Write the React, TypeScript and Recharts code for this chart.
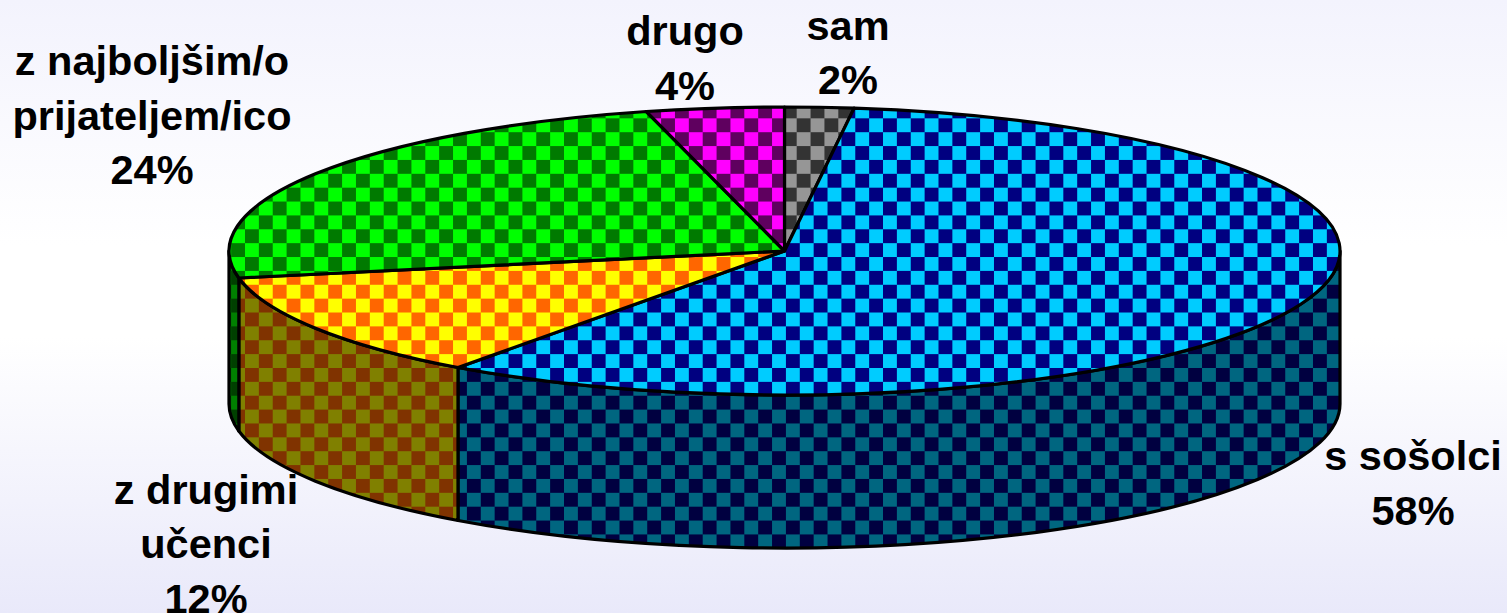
import { Pie, PieChart } from "recharts";

const names = ["sam", "s sošolci", "z drugimi učenci", "z najboljšim/o prijateljem/ico", "drugo"];
const shares = [2, 58, 12, 24, 4];
const labelLines = [["sam"], ["s sošolci"], ["z drugimi", "učenci"], ["z najboljšim/o", "prijateljem/ico"], ["drugo"]];

const topLight = ["#969696", "#00CCFF", "#FFFF00", "#00FF00", "#FF00FF"];
const topDark = ["#333333", "#000080", "#FF6600", "#007A00", "#5F005F"];
const sideLight = ["#4B4B4B", "#006680", "#808000", "#008000", "#800080"];
const sideDark = ["#1A1A1A", "#000040", "#803300", "#004000", "#300030"];

// where each label's first line sits (centre x, baseline y)
const labelSpots = [
  [848, 39.5],
  [1413, 470],
  [206, 503.5],
  [152, 75],
  [685, 45],
];
// the grey slice's checker is shifted a little in the original
const patternX = [6.1, 9.2, 9.2, 9.2, 9.2];

const tableData = names.map((name, i) => ({ name, value: shares[i] }));

const WIDTH = 1507;
const HEIGHT = 613;
const CX = 784.5;
const CY = 251;
const RX = 555.5;
const RY = 144;
const DEPTH = 153;
const CELL = 13.87;
const FONT_SIZE = 41.5;
const LINE_GAP = 54.5;

// t is degrees clockwise from 12 o'clock
function rimPoint(t: number, drop = 0) {
  const rad = (t * Math.PI) / 180;
  return [CX + RX * Math.sin(rad), CY - RY * Math.cos(rad) + drop];
}

function Checker({ id, x, light, dark }: { id: string; x: number; light: string; dark: string }) {
  return (
    <pattern id={id} patternUnits="userSpaceOnUse" x={x} y={-6.5} width={CELL * 2} height={CELL * 2}>
      <rect width={CELL * 2} height={CELL * 2} fill={light} />
      <rect width={CELL} height={CELL} fill={dark} />
      <rect x={CELL} y={CELL} width={CELL} height={CELL} fill={dark} />
    </pattern>
  );
}

function Slice3D(props: any) {
  const { index, startAngle, endAngle } = props;
  const t0 = 90 - startAngle;
  const t1 = 90 - endAngle;
  const [sx, sy] = rimPoint(t0);
  const [ex, ey] = rimPoint(t1);
  const large = t1 - t0 > 180 ? 1 : 0;

  const w0 = Math.max(t0, 90);
  const w1 = Math.min(t1, 270);
  let wall = null;
  if (w1 > w0) {
    const [ax, ay] = rimPoint(w0);
    const [bx, by] = rimPoint(w1);
    const [cx, cy] = rimPoint(w1, DEPTH);
    const [dx, dy] = rimPoint(w0, DEPTH);
    const big = w1 - w0 > 180 ? 1 : 0;
    wall = (
      <path
        d={`M${ax},${ay} A${RX},${RY} 0 ${big} 1 ${bx},${by} L${cx},${cy} A${RX},${RY} 0 ${big} 0 ${dx},${dy} Z`}
        fill={`url(#side-${index})`}
        stroke="#000"
        strokeWidth={3.2}
        strokeLinejoin="round"
      />
    );
  }

  return (
    <g>
      <defs>
        <Checker id={`top-${index}`} x={patternX[index]} light={topLight[index]} dark={topDark[index]} />
        <Checker id={`side-${index}`} x={patternX[index]} light={sideLight[index]} dark={sideDark[index]} />
      </defs>
      {wall}
      <path
        d={`M${CX},${CY} L${sx},${sy} A${RX},${RY} 0 ${large} 1 ${ex},${ey} Z`}
        fill={`url(#top-${index})`}
        stroke="#000"
        strokeWidth={3.2}
        strokeLinejoin="round"
      />
    </g>
  );
}

function SliceLabel(props: any) {
  const { index, value } = props;
  const [x, y] = labelSpots[index];
  const lines = [...labelLines[index], `${value}%`];
  return (
    <text
      x={x}
      y={y}
      textAnchor="middle"
      fontFamily="'Liberation Sans', Arial, sans-serif"
      fontWeight="bold"
      fontSize={FONT_SIZE}
      fill="#000"
    >
      {lines.map((line, i) => (
        <tspan key={i} x={x} y={y + i * LINE_GAP}>
          {line}
        </tspan>
      ))}
    </text>
  );
}

export default function App() {
  return (
    <div
      style={{
        position: "absolute",
        left: 0,
        top: 0,
        width: WIDTH,
        height: HEIGHT,
        overflow: "hidden",
        background: "linear-gradient(to bottom, #F3F3FD 0%, #FFFFFF 40%, #FFFFFF 55%, #E9E9FA 100%)",
      }}
    >
      <PieChart width={WIDTH} height={HEIGHT} margin={{ top: 0, right: 0, bottom: 0, left: 0 }}>
        <Pie
          data={tableData}
          dataKey="value"
          nameKey="name"
          cx={CX}
          cy={CY}
          innerRadius={0}
          outerRadius={RX}
          startAngle={90}
          endAngle={-270}
          paddingAngle={0}
          shape={Slice3D}
          label={SliceLabel}
          labelLine={false}
          isAnimationActive={false}
        />
      </PieChart>
    </div>
  );
}
